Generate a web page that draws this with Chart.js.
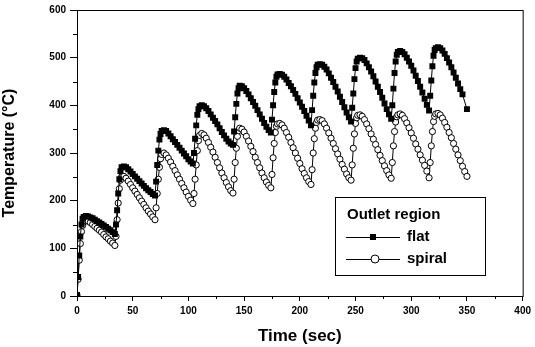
<!DOCTYPE html>
<html>
<head>
<meta charset="utf-8">
<script src="https://cdn.jsdelivr.net/npm/chart.js@4.4.0/dist/chart.umd.min.js"></script>
<style>
  html, body { margin: 0; padding: 0; background: #fff; }
  #wrap { width: 535px; height: 347px; }
</style>
</head>
<body>
<div id="wrap"><canvas id="tempChart" width="535" height="347"></canvas></div>
<script>
// time (sec), one row per heating cycle
const time = [
  0, 1, 2, 3, 4, 5, 6, 8, 10, 12, 14, 16, 18, 20, 22, 24, 26, 28, 30, 32, 34,
  35, 36, 37, 38, 39, 40, 42, 44, 46, 48, 50, 52, 54, 56, 58, 60, 62, 64, 66, 68, 70,
  71, 72, 73, 74, 75, 76, 78, 80, 82, 84, 86, 88, 90, 92, 94, 96, 98, 100, 102, 104,
  105, 106, 107, 108, 109, 110, 112, 114, 116, 118, 120, 122, 124, 126, 128, 130, 132, 134, 136, 138, 140,
  141, 142, 143, 144, 145, 146, 148, 150, 152, 154, 156, 158, 160, 162, 164, 166, 168, 170, 172, 174,
  175, 176, 177, 178, 179, 180, 182, 184, 186, 188, 190, 192, 194, 196, 198, 200, 202, 204, 206, 208, 210,
  211, 212, 213, 214, 215, 216, 218, 220, 222, 224, 226, 228, 230, 232, 234, 236, 238, 240, 242, 244, 246,
  247, 248, 249, 250, 251, 252, 254, 256, 258, 260, 262, 264, 266, 268, 270, 272, 274, 276, 278, 280, 282,
  283, 284, 285, 286, 287, 288, 290, 292, 294, 296, 298, 300, 302, 304, 306, 308, 310, 312, 314, 316,
  317, 318, 319, 320, 321, 322, 324, 326, 328, 330, 332, 334, 336, 338, 340, 342, 344, 346, 348, 350
];

// outlet temperature, flat channel
const flat = [
  2, 40, 85, 125, 150, 162, 166, 168, 167, 165, 163, 160, 157, 154, 151, 148, 145, 141, 138, 134, 130,
  150, 180, 215, 245, 262, 270, 272, 270, 266, 261, 256, 251, 246, 241, 236, 231, 226, 222, 218, 214, 211,
  240, 275, 305, 328, 340, 346, 348, 346, 341, 335, 329, 323, 317, 311, 305, 299, 293, 287, 282, 278,
  300, 330, 358, 380, 392, 398, 400, 398, 394, 388, 381, 374, 367, 360, 352, 344, 337, 330, 324, 320, 317,
  345, 375, 403, 425, 436, 441, 440, 436, 430, 423, 415, 407, 399, 390, 381, 372, 363, 355, 348, 343,
  370, 400, 428, 448, 460, 465, 466, 464, 460, 454, 447, 440, 432, 424, 415, 406, 397, 388, 378, 368, 358,
  390, 420, 448, 468, 480, 485, 486, 485, 481, 475, 467, 458, 449, 439, 429, 418, 407, 396, 385, 375, 366,
  395, 425, 455, 478, 492, 498, 500, 499, 495, 488, 480, 471, 461, 450, 439, 428, 416, 404, 392, 381, 372,
  400, 435, 468, 492, 506, 512, 514, 512, 507, 500, 492, 483, 473, 462, 451, 439, 427, 414, 401, 389,
  420, 452, 482, 504, 516, 520, 522, 520, 515, 508, 499, 490, 480, 469, 458, 446, 434, 423, null, 392
];

// outlet temperature, spiral channel
const spiral = [
  2, 35, 75, 110, 135, 148, 155, 158, 157, 154, 150, 146, 142, 138, 134, 129, 124, 120, 115, 111, 106,
  125, 160, 195, 225, 243, 250, 251, 247, 241, 234, 227, 220, 213, 206, 199, 192, 185, 178, 172, 166, 160,
  185, 215, 245, 270, 288, 297, 300, 296, 289, 281, 272, 263, 254, 245, 236, 227, 218, 209, 201, 194,
  215, 245, 275, 305, 326, 337, 341, 338, 331, 322, 312, 302, 291, 280, 269, 258, 248, 238, 229, 221, 216,
  245, 280, 310, 335, 347, 352, 350, 344, 335, 325, 314, 303, 291, 280, 269, 258, 248, 239, 232, 227,
  255, 290, 320, 343, 356, 361, 362, 359, 352, 343, 333, 322, 311, 300, 289, 278, 267, 257, 248, 240, 234,
  265, 300, 330, 352, 364, 369, 370, 368, 361, 352, 342, 331, 320, 309, 298, 287, 276, 266, 256, 248, 243,
  275, 310, 340, 362, 374, 379, 380, 377, 370, 361, 351, 340, 329, 318, 307, 295, 284, 273, 263, 254, 247,
  280, 315, 345, 365, 376, 380, 382, 379, 372, 363, 353, 342, 331, 319, 308, 296, 285, 274, 262, 248,
  280, 315, 345, 366, 377, 382, 383, 380, 373, 364, 354, 343, 332, 320, 308, 296, 284, 272, 261, 251
];

const xTicks = [0, 50, 100, 150, 200, 250, 300, 350, 400];
const yTicks = [0, 100, 200, 300, 400, 500, 600];
const legendTitle = 'Outlet region';
const seriesNames = ['flat', 'spiral'];

const FONT = "'Liberation Sans', Arial, sans-serif";

// frame, minor ticks and the boxed legend
const extras = {
  id: 'extras',
  afterDraw(chart) {
    const c = chart.ctx;
    const a = chart.chartArea;
    const xs = chart.scales.x, ys = chart.scales.y;
    c.save();
    c.strokeStyle = '#000';
    c.lineWidth = 1;
    c.strokeRect(a.left + 0.5, a.top + 0.5, a.right - a.left, a.bottom - a.top);

    c.beginPath();
    for (let v = 25; v < 400; v += 50) {
      const px = Math.round(xs.getPixelForValue(v)) + 0.5;
      c.moveTo(px, a.bottom); c.lineTo(px, a.bottom + 3);
    }
    for (let v = 50; v < 600; v += 100) {
      const py = Math.round(ys.getPixelForValue(v)) + 0.5;
      c.moveTo(a.left, py); c.lineTo(a.left - 4, py);
    }
    c.stroke();

    // legend box
    const bx = 335, by = 197, bw = 150, bh = 78;
    c.strokeRect(bx + 0.5, by + 0.5, bw, bh);
    c.fillStyle = '#000';
    c.font = 'bold 15px ' + FONT;
    c.textBaseline = 'middle';
    c.fillText(legendTitle, bx + 12, by + 18);
    const rows = [by + 40, by + 62];
    rows.forEach((ry, i) => {
      c.beginPath();
      c.moveTo(bx + 11, ry + 0.5); c.lineTo(bx + 65, ry + 0.5);
      c.stroke();
      if (i === 0) {
        c.fillRect(bx + 35, ry - 3, 6, 6);
      } else {
        c.beginPath();
        c.arc(bx + 40, ry, 4, 0, Math.PI * 2);
        c.fillStyle = '#fff'; c.fill();
        c.stroke();
        c.fillStyle = '#000';
      }
      c.fillText(seriesNames[i], bx + 72, ry);
    });
    c.restore();
  }
};

const ctx = document.getElementById('tempChart').getContext('2d');
const tempChart = new Chart(ctx, {
  type: 'line',
  data: {
    datasets: [{
      label: seriesNames[0],
      data: time.map((t, i) => ({ x: t, y: flat[i] })),
      borderColor: '#000',
      borderWidth: 1,
      pointStyle: 'rect',
      pointRadius: 4.2,
      pointBackgroundColor: '#000',
      pointBorderColor: '#000',
      pointBorderWidth: 0,
      spanGaps: true,
      fill: false
    }, {
      label: seriesNames[1],
      data: time.map((t, i) => ({ x: t, y: spiral[i] })),
      borderColor: '#000',
      borderWidth: 1,
      pointStyle: 'circle',
      pointRadius: 3.1,
      pointBackgroundColor: '#fff',
      pointBorderColor: '#000',
      pointBorderWidth: 1,
      fill: false
    }]
  },
  options: {
    responsive: false,
    animation: false,
    layout: { padding: { top: 7, right: 10, left: 0, bottom: 0 } },
    plugins: { legend: { display: false }, tooltip: { enabled: false } },
    scales: {
      x: {
        type: 'linear', min: 0, max: 400,
        afterFit: s => { s.height = 51; },
        afterBuildTicks: s => { s.ticks = xTicks.map(v => ({ value: v })); },
        grid: { drawOnChartArea: false, tickLength: 5, tickColor: '#000' },
        border: { color: '#000', width: 1 },
        ticks: { color: '#000', font: { family: FONT, size: 10, weight: 'bold' }, padding: 4, maxRotation: 0 },
        title: { display: true, text: 'Time (sec)', color: '#000', font: { family: FONT, size: 17, weight: 'bold' }, padding: { top: 2, bottom: 0 } }
      },
      y: {
        min: 0, max: 600,
        afterFit: s => { s.width = 77; },
        afterBuildTicks: s => { s.ticks = yTicks.map(v => ({ value: v })); },
        grid: { drawOnChartArea: false, tickLength: 7, tickColor: '#000' },
        border: { color: '#000', width: 1 },
        ticks: { color: '#000', font: { family: FONT, size: 10, weight: 'bold' }, padding: 4 },
        title: { display: true, text: 'Temperature (°C)', color: '#000', font: { family: FONT, size: 16, weight: 'bold' }, padding: { top: 0, bottom: 4 } }
      }
    }
  },
  plugins: [extras]
});
</script>
</body>
</html>
